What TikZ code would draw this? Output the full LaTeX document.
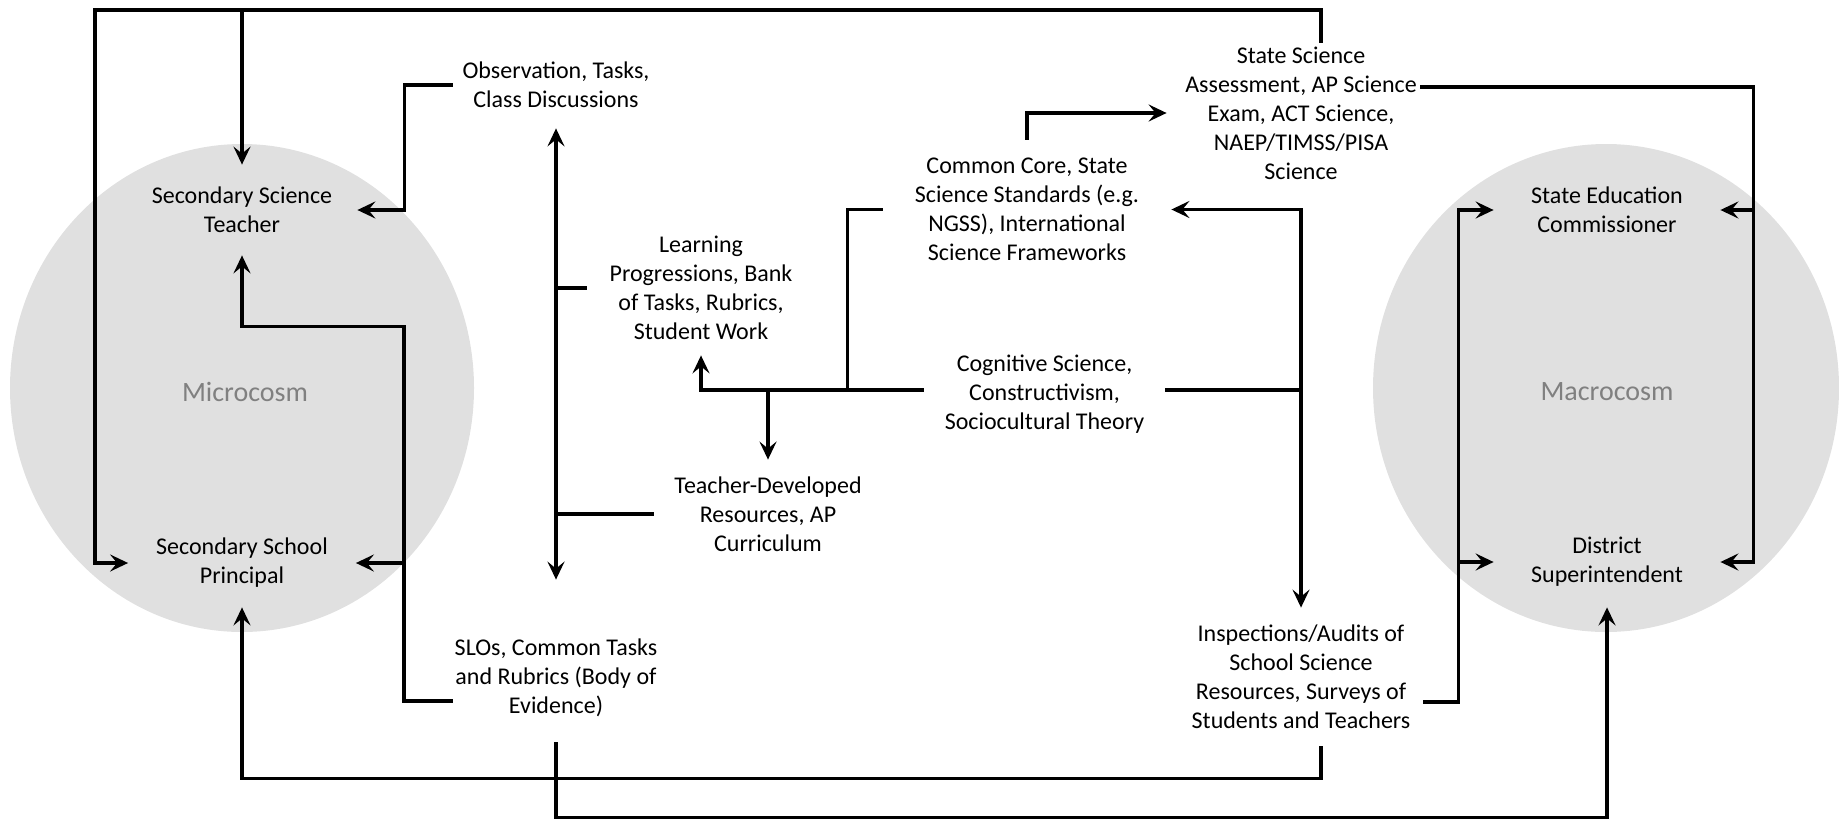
\documentclass[tikz,border=0pt]{standalone}
\usepackage{fontspec}
\setmainfont{Carlito}
\usetikzlibrary{arrows.meta,calc}
\definecolor{blobfill}{RGB}{224,224,224}
\definecolor{blobtext}{RGB}{128,128,128}
\begin{document}
\begin{tikzpicture}[x=0.5pt,y=-0.5pt,
  lbl/.style={align=center,inner sep=0pt,font=\fontsize{12}{14.5}\selectfont},
  conn/.style={line width=1.6pt},
  tip/.tip={Stealth[length=9pt,width=8.5pt,inset=3.5pt]},
  arr/.style={conn,-tip},
  darr/.style={conn,tip-tip},
  blob/.style={fill=blobfill,draw=none},
  blobname/.style={text=blobtext,inner sep=0pt,font=\fontsize{14}{17}\selectfont}
]
\useasboundingbox (0,0) rectangle (1839,819);

% the two spheres
\fill[blob] (242,388) ellipse [x radius=116pt, y radius=122pt];
\fill[blob] (1606,388) ellipse [x radius=116.5pt, y radius=122pt];
\node[blobname] (micro) at (245,392) {Microcosm};
\node[blobname] (macro) at (1607,392) {Macrocosm};

% actors
\node[lbl,minimum width=115pt,minimum height=45pt] (teach) at (242,210) {Secondary Science\\Teacher};
\node[lbl,minimum width=113.5pt,minimum height=44pt] (princ) at (242,563) {Secondary School\\Principal};
\node[lbl,minimum width=113pt,minimum height=30pt] (comm) at (1607,210) {State Education\\Commissioner};
\node[lbl,minimum width=113pt,minimum height=45pt] (dist) at (1607,562) {District\\Superintendent};

% instruments and frameworks
\node[lbl,minimum width=103pt,minimum height=43pt] (obs) at (556,85) {Observation, Tasks,\\Class Discussions};
\node[lbl,minimum width=114pt,minimum height=67pt] (learn) at (701,288) {Learning\\Progressions, Bank\\of Tasks, Rubrics,\\Student Work};
\node[lbl,minimum width=114pt,minimum height=54pt] (tdev) at (768,514) {Teacher-Developed\\Resources, AP\\Curriculum};
\node[lbl,minimum width=103pt,minimum height=64pt] (slo) at (556,678) {SLOs, Common Tasks\\and Rubrics (Body of\\Evidence)};
\node[lbl,minimum width=144pt,minimum height=69.5pt] (cc) at (1027,209.5) {Common Core, State\\Science Standards (e.g.\\NGSS), International\\Science Frameworks};
\node[lbl,minimum width=120.5pt,minimum height=45pt] (cog) at (1044.5,394) {Cognitive Science,\\Constructivism,\\Sociocultural Theory};
\node[lbl,minimum width=119pt,minimum height=70pt] (ss) at (1301,113) {State Science\\Assessment, AP Science\\Exam, ACT Science,\\NAEP/TIMSS/PISA\\Science};
\node[lbl,minimum width=122pt,minimum height=69pt] (insp) at (1301,677) {Inspections/Audits of\\School Science\\Resources, Surveys of\\Students and Teachers};

% helper points
\coordinate (tl) at (95,10);
\coordinate (cw) at ($(cog.west)+(0,-4)$);
\coordinate (ce) at ($(cog.east)+(0,-4)$);
\coordinate (ccj) at ($(cc.west)+(-35,0)$);

% outer loop from the state assessments
\draw[arr] ($(ss.north)+(20,0)$) |- (tl) |- (princ.west);
\draw[arr] (teach.north |- tl) -- (teach.north);

% classroom evidence
\draw[arr] (obs.west) -| ($(teach.east)+(47,0)$) -- (teach.east);
\draw[arr] ($(slo.west)+(0,23)$) -| ($(teach.south)+(162,71)$) -| (teach.south);
\draw[arr] ($(princ.east)+(48,0)$) -- (princ.east);

% central double arrow and its branches
\draw[darr] (obs.south) -- ($(slo.north)+(0,-34)$);
\draw[conn] (learn.west) -- (learn.west -| obs.south);
\draw[conn] (tdev.west) -- (tdev.west -| obs.south);

% theory feeding the resources
\draw[arr] (cw) -| (learn.south);
\draw[arr] (cw -| tdev.north) -- (tdev.north);
\draw[conn] (cc.west) -| (ccj |- cw);
\draw[conn] (ce) -- (ce -| insp.north);
\draw[darr] (cc.east) -| (insp.north);
\draw[arr,shorten >=7.5pt] (cc.north) |- (ss.west);

% macrocosm links
\draw[arr] ($(ss.east)+(0,-26)$) -| ($(dist.east)+(33,0)$) -- (dist.east);
\draw[arr] ($(comm.east)+(33,0)$) -- (comm.east);
\draw[arr] ($(insp.east)+(0,25)$) -| ($(comm.west)+(-35,0)$) -- (comm.west);
\draw[arr] ($(dist.west)+(-35,0)$) -- (dist.west);

% bottom returns
\draw[arr] ($(insp.south)+(20,0)$) |- ($(princ.south)+(0,171)$) -- (princ.south);
\draw[arr] (slo.south) |- ($(dist.south)+(0,210)$) -- (dist.south);
\end{tikzpicture}
\end{document}
